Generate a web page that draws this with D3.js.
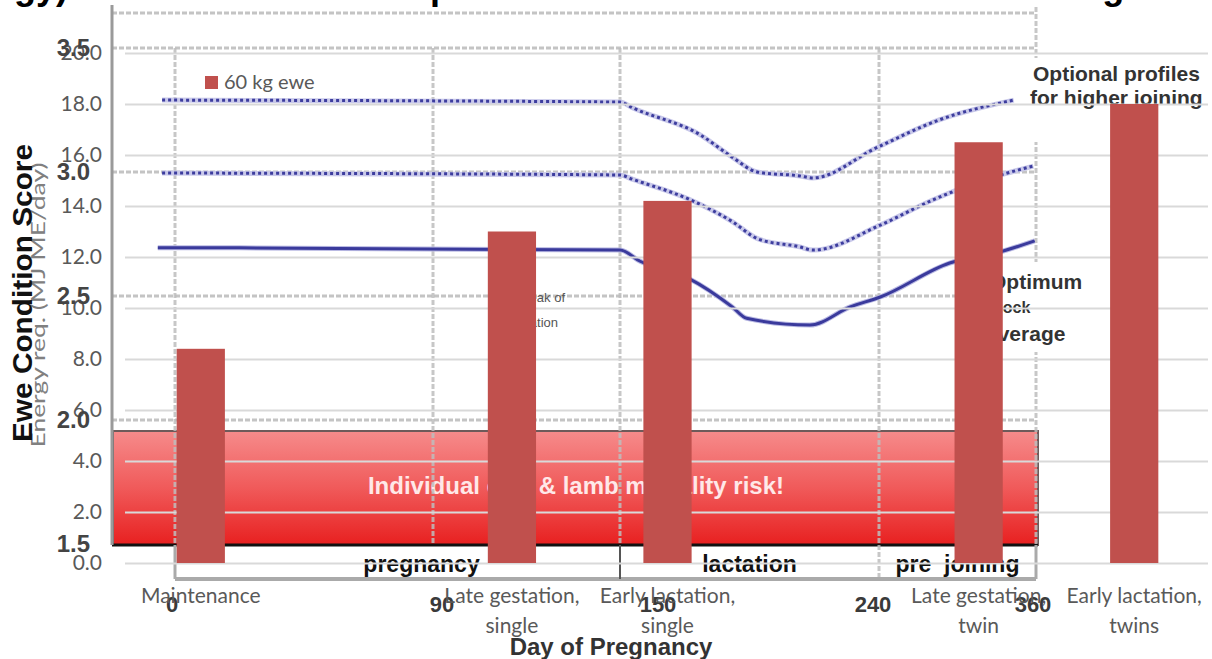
<!DOCTYPE html>
<html>
<head>
<meta charset="utf-8">
<script src="https://cdn.jsdelivr.net/npm/d3@7"></script>
<style>
  body { margin: 0; background: #fff; }
  svg { display: block; }
</style>
</head>
<body>
<div id="chart"></div>
<script>
// bar chart data (energy requirement of a 60 kg ewe)
var categories = ["Maintenance", "", "Late gestation, single", "Early lactation, single", "", "Late gestation, twin", "Early lactation, twins"];
var energyValues = [8.4, null, 13.0, 14.2, null, 16.5, 18.0];
var energyTicks = [0, 2, 4, 6, 8, 10, 12, 14, 16, 18, 20];
var seriesName = "60 kg ewe";

// background chart data (ewe condition score profiles)
var csTicks = [1.5, 2.0, 2.5, 3.0, 3.5];
var dayTicks = [0, 90, 150, 240, 360];
var phaseLabels = ["pregnancy", "lactation", "pre  joining"];
var phaseDays = [86, 195, 300];
var optimumProfile = [[-6, 2.695], [150, 2.685], [157, 2.64], [174, 2.57], [189, 2.456], [194, 2.41], [216, 2.383], [230, 2.456], [241, 2.496], [294, 2.633], [332, 2.677], [359, 2.722]];
var upperProfile = [[-4.5, 3.29], [150, 3.282], [154.5, 3.258], [178, 3.149], [189, 3.06], [197.6, 3.0], [212.5, 2.984], [217, 2.976], [239, 3.097], [286, 3.21], [343, 3.29]];
var middleProfile = [[-4.5, 2.996], [150, 2.988], [154.5, 2.97], [174, 2.89], [189, 2.80], [198, 2.73], [212.5, 2.698], [217, 2.685], [241, 2.786], [281, 2.887], [328, 2.98], [358, 3.024]];

var W = 1212, H = 659;
var svg = d3.select("#chart").append("svg")
  .attr("width", W).attr("height", H);

var defs = svg.append("defs");
var grad = defs.append("linearGradient").attr("id", "risk")
  .attr("x1", 0).attr("y1", 0).attr("x2", 0).attr("y2", 1);
grad.append("stop").attr("offset", "0%").attr("stop-color", "#f68b8b");
grad.append("stop").attr("offset", "50%").attr("stop-color", "#f05a5a");
grad.append("stop").attr("offset", "100%").attr("stop-color", "#e82020");

// ---------- background chart: condition score ----------
var dayX = d3.scaleLinear().domain(dayTicks).range([175, 433, 620, 879, 1036]);
var csY = d3.scaleLinear().domain([1.5, 3.5]).range([544, 48]);
var bgLeft = 112, bgTop = 13, bandTop = 431, bandBottom = 545, axisY = 579;
var arial = "'Liberation Sans', Arial, sans-serif";
var bg = svg.append("g");

// phase labels under the risk band
bg.selectAll(".phase").data(phaseLabels).enter().append("text")
  .attr("x", function(d, i) { return dayX(phaseDays[i]); })
  .attr("y", 572)
  .attr("text-anchor", "middle")
  .style("font-family", arial).style("font-weight", "bold")
  .style("font-size", "23px").style("fill", "#111")
  .style("white-space", "pre")
  .text(function(d) { return d; });

// risk band
bg.append("rect")
  .attr("x", bgLeft + 1).attr("y", bandTop)
  .attr("width", dayX(360) + 2 - bgLeft - 1).attr("height", bandBottom - bandTop)
  .attr("fill", "url(#risk)")
  .attr("stroke", "#6e5a5a").attr("stroke-width", 2);
bg.append("line")
  .attr("x1", bgLeft).attr("x2", dayX(360) + 2)
  .attr("y1", bandBottom).attr("y2", bandBottom)
  .attr("stroke", "#111").attr("stroke-width", 3);
bg.append("text")
  .attr("x", 576).attr("y", 494)
  .attr("text-anchor", "middle")
  .style("font-family", arial).style("font-weight", "bold")
  .style("font-size", "24px").style("fill", "#ffe8e8")
  .text("Individual ewe & lamb mortality risk!");

// dashed grid
bg.selectAll(".hgrid").data(csTicks.filter(function(d) { return d > 1.5; })).enter().append("line")
  .attr("x1", bgLeft).attr("x2", dayX(360))
  .attr("y1", function(d) { return csY(d); }).attr("y2", function(d) { return csY(d); })
  .attr("stroke", "#c4c4c4").attr("stroke-width", 3).attr("stroke-dasharray", "5,2");
bg.append("line")
  .attr("x1", bgLeft).attr("x2", dayX(360))
  .attr("y1", bgTop).attr("y2", bgTop)
  .attr("stroke", "#c4c4c4").attr("stroke-width", 3).attr("stroke-dasharray", "5,2");
bg.selectAll(".vgrid").data(dayTicks).enter().append("line")
  .attr("x1", function(d) { return dayX(d); }).attr("x2", function(d) { return dayX(d); })
  .attr("y1", function(d) { return d === 360 ? 7 : csY(3.5); })
  .attr("y2", function(d) { return d === 240 ? axisY : bandBottom; })
  .attr("stroke", "#bdbdbd").attr("stroke-opacity", 0.85)
  .attr("stroke-width", 3).attr("stroke-dasharray", "5,2");

// bottom box of the day axis
bg.append("line")
  .attr("x1", dayX(0)).attr("x2", dayX(360))
  .attr("y1", axisY).attr("y2", axisY)
  .attr("stroke", "#aaa").attr("stroke-width", 4);
[0, 360].forEach(function(d) {
  bg.append("line")
    .attr("x1", dayX(d)).attr("x2", dayX(d))
    .attr("y1", bandBottom).attr("y2", axisY)
    .attr("stroke", "#aaa").attr("stroke-width", 3);
});
bg.append("line")
  .attr("x1", dayX(150)).attr("x2", dayX(150))
  .attr("y1", bandBottom).attr("y2", axisY)
  .attr("stroke", "#555").attr("stroke-width", 2);

// left axis line
bg.append("line")
  .attr("x1", bgLeft).attr("x2", bgLeft)
  .attr("y1", 5).attr("y2", bandBottom)
  .attr("stroke", "#9a9a9a").attr("stroke-width", 3);

// day tick labels
var dayNudge = { 0: -3, 90: 9, 150: 38, 240: -6, 360: -3 };
bg.selectAll(".dayLabel").data(dayTicks).enter().append("text")
  .attr("x", function(d) { return dayX(d) + dayNudge[d]; })
  .attr("y", 612)
  .attr("text-anchor", "middle")
  .style("font-family", arial).style("font-weight", "bold")
  .style("font-size", "22px").style("fill", "#3a3a3a")
  .text(function(d) { return d; });

// profile lines
var line = d3.line()
  .x(function(d) { return dayX(d[0]); })
  .y(function(d) { return csY(d[1]); })
  .curve(d3.curveMonotoneX);
[upperProfile, middleProfile].forEach(function(p) {
  bg.append("path").attr("d", line(p)).attr("fill", "none")
    .attr("stroke", "#c9c9ea").attr("stroke-width", 5);
  bg.append("path").attr("d", line(p)).attr("fill", "none")
    .attr("stroke", "#3d3d9e").attr("stroke-width", 3).attr("stroke-dasharray", "3,3");
});
bg.append("path").attr("d", line(optimumProfile)).attr("fill", "none")
  .attr("stroke", "#b9b9e3").attr("stroke-width", 5);
bg.append("path").attr("d", line(optimumProfile)).attr("fill", "none")
  .attr("stroke", "#3a3a9c").attr("stroke-width", 3);

// annotations
bg.append("rect").attr("x", 1026).attr("y", 58).attr("width", 186).attr("height", 84).attr("fill", "#fff");
var note1 = bg.append("text")
  .style("font-family", arial).style("font-weight", "bold")
  .style("font-size", "21px").style("fill", "#333");
note1.append("tspan").attr("x", 1033).attr("y", 81).text("Optional profiles");
note1.append("tspan").attr("x", 1030).attr("y", 105).text("for higher joining");

bg.append("rect").attr("x", 990).attr("y", 262).attr("width", 112).attr("height", 90).attr("fill", "#fff");
var note2 = bg.append("text")
  .style("font-family", arial).style("font-weight", "bold")
  .style("font-size", "21px").style("fill", "#333");
note2.append("tspan").attr("x", 990).attr("y", 289).text("Optimum");
note2.append("tspan").attr("x", 993).attr("y", 313).style("font-size", "16px").text("flock");
note2.append("tspan").attr("x", 986).attr("y", 341).text("average");

var note3 = bg.append("text")
  .attr("text-anchor", "end")
  .style("font-family", arial).style("font-size", "13px").style("fill", "#555");
note3.append("tspan").attr("x", 565).attr("y", 302).text("Peak of");
note3.append("tspan").attr("x", 558).attr("y", 327).text("lactation");

// ---------- foreground chart: energy requirement bars ----------
var lato = "Lato, 'Open Sans', sans-serif";
var barX = d3.scaleBand().domain(d3.range(categories.length))
  .range([123, 1212]).paddingInner(0.69).paddingOuter(0.345);
var barY = d3.scaleLinear().domain([0, 20]).range([563, 53]);
var fg = svg.append("g");

var yAxis = fg.append("g")
  .attr("transform", "translate(125,0)")
  .call(d3.axisLeft(barY).tickValues(energyTicks).tickFormat(d3.format(".1f"))
    .tickSize(-(1208 - 125)).tickPadding(23));
yAxis.select(".domain").remove();
yAxis.selectAll(".tick line").attr("stroke", "#d9d9d9").attr("stroke-width", 2);
yAxis.selectAll(".tick text")
  .style("font-family", lato).style("font-size", "21px").style("fill", "#595959");

fg.selectAll(".bar").data(energyValues).enter()
  .filter(function(d) { return d !== null; })
  .append("rect")
  .attr("class", "bar")
  .attr("x", function(d, i) { return barX(energyValues.indexOf(d)); })
  .attr("y", function(d) { return barY(d); })
  .attr("width", barX.bandwidth())
  .attr("height", function(d) { return barY(0) - barY(d); })
  .attr("fill", "#c0504d");

// category labels (two lines where there is a comma)
fg.selectAll(".cat").data(categories).enter().append("text")
  .attr("class", "cat")
  .attr("text-anchor", "middle")
  .style("font-family", lato).style("font-size", "21px").style("fill", "#595959")
  .each(function(d, i) {
    var parts = d.split(", ");
    var t = d3.select(this);
    parts.forEach(function(p, j) {
      t.append("tspan")
        .attr("x", barX(i) + barX.bandwidth() / 2)
        .attr("y", 603 + j * 30)
        .text(j < parts.length - 1 ? p + "," : p);
    });
  });

// legend
fg.append("rect").attr("x", 205).attr("y", 76).attr("width", 13).attr("height", 13).attr("fill", "#c0504d");
fg.append("text").attr("x", 224).attr("y", 89)
  .style("font-family", lato).style("font-size", "20px").style("fill", "#595959")
  .text(seriesName);

// condition score tick labels (over the bar axis)
var csAxis = svg.append("g")
  .attr("transform", "translate(" + bgLeft + ",0)")
  .call(d3.axisLeft(csY).tickValues(csTicks).tickFormat(d3.format(".1f")).tickSize(0).tickPadding(22));
csAxis.select(".domain").remove();
csAxis.selectAll(".tick text")
  .style("font-family", arial).style("font-weight", "bold")
  .style("font-size", "24px").style("fill", "#444");

// axis titles
svg.append("text")
  .attr("transform", "translate(45,305) rotate(-90)")
  .attr("text-anchor", "middle")
  .attr("textLength", 285).attr("lengthAdjust", "spacingAndGlyphs")
  .style("font-family", lato).style("font-size", "19px").style("fill", "#808080")
  .text("Energy req. (MJ ME/day)");
svg.append("text")
  .attr("transform", "translate(32,293) rotate(-90)")
  .attr("text-anchor", "middle")
  .attr("textLength", 298).attr("lengthAdjust", "spacingAndGlyphs")
  .style("font-family", arial).style("font-weight", "bold")
  .style("font-size", "27px").style("fill", "#111")
  .text("Ewe Condition Score");
svg.append("text")
  .attr("x", 611).attr("y", 655)
  .attr("text-anchor", "middle")
  .style("font-family", arial).style("font-weight", "bold")
  .style("font-size", "24px").style("fill", "#333")
  .text("Day of Pregnancy");

// cut-off title at the very top (only the descenders show)
svg.append("text")
  .attr("x", -78).attr("y", -1)
  .style("font-family", arial).style("font-weight", "bold")
  .style("font-size", "36px").style("fill", "#000")
  .text("(Energy) and condition score profiles for the mature ewe at the mating");
</script>
</body>
</html>
